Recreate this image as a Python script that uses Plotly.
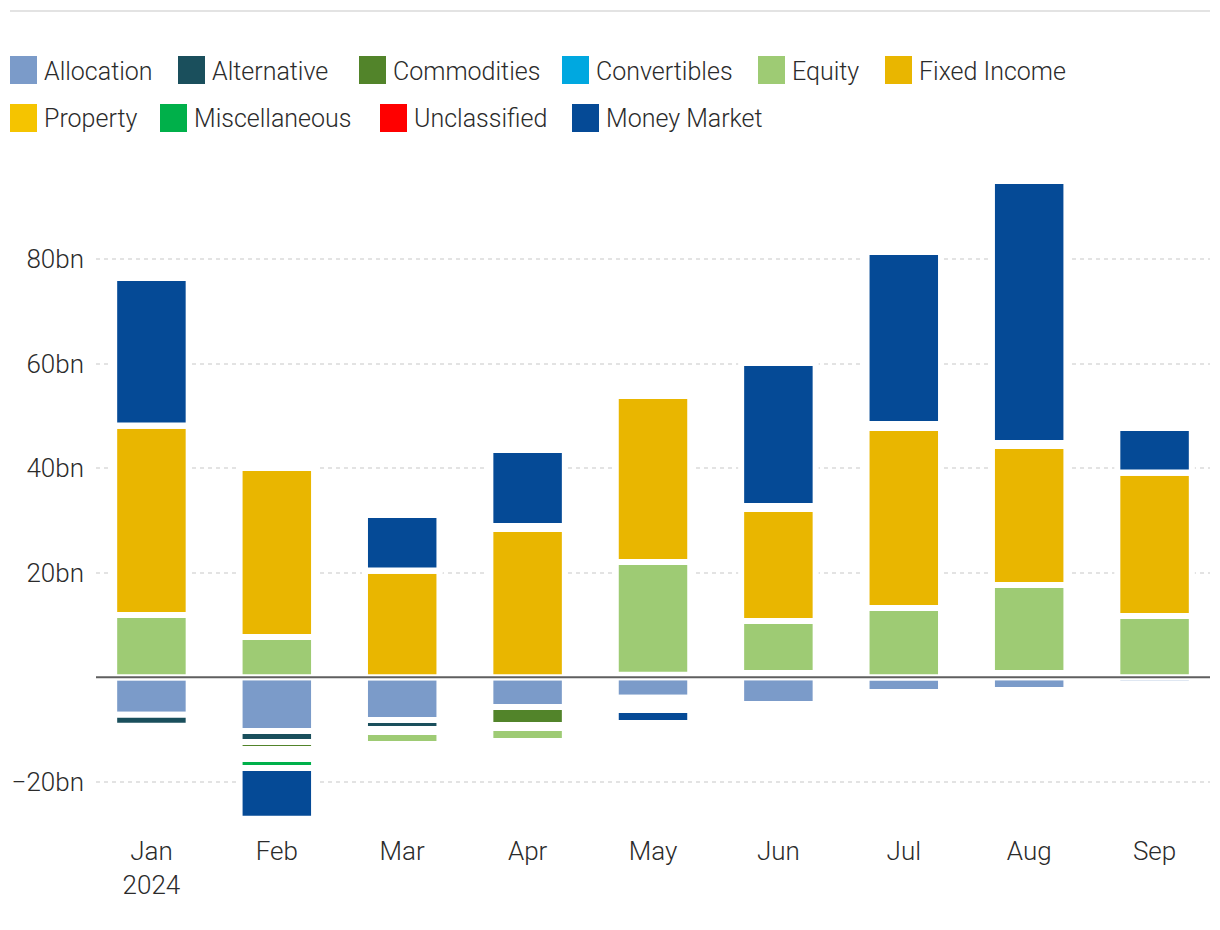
import plotly.graph_objects as go

# ---------------- data (bn) ----------------
months = ["Jan", "Feb", "Mar", "Apr", "May", "Jun", "Jul", "Aug", "Sep"]
first_year = "2024"

allocation    = [-7.2, -10.3, -8.19, -5.7, -3.92, -5.13, -2.83, -2.45, -1.3]
alternative   = [-2.09, -2.1, -1.72, 0, 0.48, 0.8, 0, 0.8, 0]
commodities   = [0, -1.34, 0, -3.44, -0.6, 0, 0, 0, 0]
convertibles  = [0, -0.96, -0.57, -0.57, -0.6, 0, 0, 0, 0]
equity        = [11.9, 7.69, -2.3, -2.49, 21.57, 9.95, 13.24, 16.84, 11.71]
fixed_income  = [36.27, 32.34, 20.42, 28.36, 31.77, 21.44, 34.45, 26.6, 27.46]
property_     = [0, -0.96, 0, 0.57, -0.55, 0.57, 0.77, 0.57, 0]
miscellaneous = [0, -1.72, 0, 0, -0.6, 0, 0, 0, 0]
unclassified  = [0, 0, 0, 0, 0, 0, 0, 0, 0]
money_market  = [28.23, -9.7, 10.62, 14.55, -2.49, 27.37, 32.92, 50.14, 8.52]

series_names = ["Allocation", "Alternative", "Commodities", "Convertibles", "Equity",
                "Fixed Income", "Property", "Miscellaneous", "Unclassified", "Money Market"]
series_values = [allocation, alternative, commodities, convertibles, equity,
                 fixed_income, property_, miscellaneous, unclassified, money_market]
series_colors = ["#7B9BC9", "#1A4F5C", "#52842A", "#00A8E0", "#9ECB74",
                 "#E9B600", "#F5C400", "#00B04A", "#FF0000", "#054A96"]

y_tick_vals = [-20, 20, 40, 60, 80]
y_tick_text = ["\u221220bn", "20bn", "40bn", "60bn", "80bn"]
x_tick_text = [months[0] + "<br>" + first_year] + months[1:]

# ---------------- geometry ----------------
W, H = 1204, 914          # page has 8px body margin
OFF = 8
PLOT_L, PLOT_R = 96 - OFF, 1210 - OFF
PLOT_T, PLOT_B = 170 - OFF, 830 - OFF
pw = PLOT_R - PLOT_L
ph = PLOT_B - PLOT_T

def px(xpage):
    return (xpage - OFF - PLOT_L) / pw

def py(ypage):
    return (PLOT_B - (ypage - OFF)) / ph

FONT = "Roboto, 'Liberation Sans', sans-serif"
TXT = "#2b2b2b"

fig = go.Figure()
for name, vals, col in zip(series_names, series_values, series_colors):
    fig.add_trace(go.Bar(
        x=list(range(len(months))), y=vals, name=name,
        marker=dict(color=col, line=dict(color="white", width=6)),
        showlegend=False,
    ))

shapes = []
annotations = []

# top rule
shapes.append(dict(type="line", xref="paper", yref="paper",
                   x0=px(10), x1=px(1210), y0=py(11), y1=py(11),
                   line=dict(color="#e3e3e3", width=2)))
# zero line above bars
shapes.append(dict(type="line", xref="paper", yref="y", x0=0, x1=1, y0=0, y1=0,
                   line=dict(color="#5f5f5f", width=2), layer="above"))

# custom legend
legend_pos = [
    (10, 70), (178, 70), (359, 70), (562, 70), (758, 70), (885, 70),
    (10, 118), (160, 118), (380, 118), (572, 118),
]
for (lx, ly), name, col in zip(legend_pos, series_names, series_colors):
    shapes.append(dict(type="rect", xref="paper", yref="paper",
                       x0=px(lx), x1=px(lx + 27), y0=py(ly - 14), y1=py(ly + 14),
                       fillcolor=col, line=dict(width=0)))
    annotations.append(dict(xref="paper", yref="paper", x=px(lx + 32), y=py(ly + 1),
                            text=name, showarrow=False, xanchor="left", yanchor="middle",
                            font=dict(family=FONT, size=25, color=TXT, weight=300)))

fig.update_layout(
    width=W, height=H,
    margin=dict(l=PLOT_L, r=W - PLOT_R, t=PLOT_T, b=H - PLOT_B, pad=0),
    barmode="relative", bargap=0.406,
    plot_bgcolor="white", paper_bgcolor="white",
    font=dict(family=FONT, size=26, color=TXT),
    shapes=shapes, annotations=annotations,
    showlegend=False,
    xaxis=dict(range=[-0.442, 8.442], tickmode="array",
               tickvals=list(range(len(months))), ticktext=x_tick_text,
               showgrid=False, zeroline=False, showline=False, ticks="",
               tickfont=dict(family=FONT, size=26, color=TXT, weight=300),
               ticklabelstandoff=3, fixedrange=True),
    yaxis=dict(range=[(677.2 - 830) / 5.225, (677.2 - 170) / 5.225],
               tickmode="array", tickvals=y_tick_vals, ticktext=y_tick_text,
               showgrid=True, gridcolor="#e3e3e3", gridwidth=2, griddash="4px,4px",
               zeroline=False, showline=False, ticks="",
               tickfont=dict(family=FONT, size=26, color=TXT, weight=300),
               ticklabelstandoff=11, fixedrange=True),
)

fig.write_html("out.html")
